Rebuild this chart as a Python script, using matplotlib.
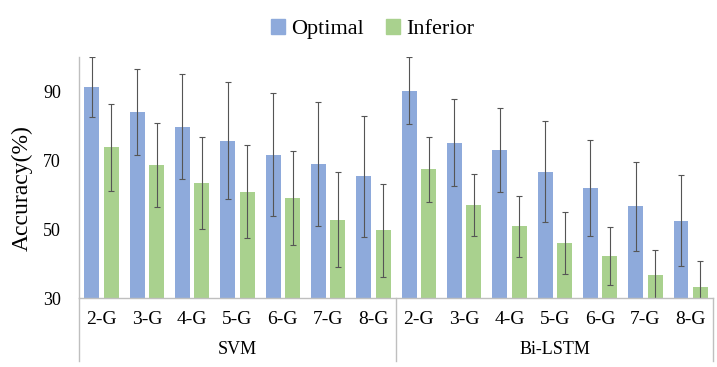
#!/usr/bin/env python3
# Grouped bar chart: Optimal vs Inferior accuracy for SVM and Bi-LSTM.

import numpy as np
import matplotlib
matplotlib.use("Agg")
import matplotlib.pyplot as plt
from matplotlib.patches import Patch

plt.rcParams["font.family"] = ["Liberation Serif", "DejaVu Serif"]

# ---------------------------------------------------------------------------
# Data
# ---------------------------------------------------------------------------
groups = ["SVM", "Bi-LSTM"]
categories = ["2-G", "3-G", "4-G", "5-G", "6-G", "7-G", "8-G"]

svm_optimal = [91.2, 84.0, 79.7, 75.6, 71.6, 68.9, 65.3]
svm_optimal_err = [8.7, 12.5, 15.2, 17.0, 17.9, 17.9, 17.6]
svm_inferior = [73.7, 68.6, 63.3, 60.9, 59.1, 52.7, 49.6]
svm_inferior_err = [12.6, 12.3, 13.3, 13.6, 13.7, 13.8, 13.4]

lstm_optimal = [90.2, 75.1, 72.9, 66.7, 61.9, 56.6, 52.5]
lstm_optimal_err = [9.8, 12.7, 12.2, 14.7, 13.9, 13.0, 13.1]
lstm_inferior = [67.4, 57.0, 50.8, 46.0, 42.1, 36.6, 33.3]
lstm_inferior_err = [9.4, 9.0, 8.9, 8.9, 8.4, 7.3, 7.4]

yticks = [30, 50, 70, 90]

BLUE = "#8eaadb"
GREEN = "#a9d18e"
GRID = "#bfbfbf"

# ---------------------------------------------------------------------------
# Plot
# ---------------------------------------------------------------------------
optimal = np.array(svm_optimal + lstm_optimal)
optimal_err = np.array(svm_optimal_err + lstm_optimal_err)
inferior = np.array(svm_inferior + lstm_inferior)
inferior_err = np.array(svm_inferior_err + lstm_inferior_err)
x = np.arange(len(optimal))

fig = plt.figure(figsize=(7.17, 3.67), dpi=100)
ax = fig.add_axes([0.110, 0.188, 0.885, 0.657])

w = 0.33
off = 0.215
err_kw = dict(ecolor="#555555", elinewidth=0.8, capsize=2.5, capthick=0.8)
ax.bar(x - off, optimal, w, bottom=0, color=BLUE, yerr=optimal_err,
       error_kw=err_kw, zorder=2)
ax.bar(x + off, inferior, w, bottom=0, color=GREEN, yerr=inferior_err,
       error_kw=err_kw, zorder=2)

ax.set_xlim(-0.5, len(x) - 0.5)
ax.set_ylim(30, 100)
ax.set_yticks(yticks)
ax.tick_params(axis="y", length=0, labelsize=13, pad=13)
ax.set_xticks(x)
ax.set_xticklabels(categories * len(groups))
ax.tick_params(axis="x", length=0, labelsize=14, pad=9)

for side in ["top", "right"]:
    ax.spines[side].set_visible(False)
for side in ["left", "bottom"]:
    ax.spines[side].set_color(GRID)
    ax.spines[side].set_linewidth(1.0)

ax.set_ylabel("Accuracy(%)", fontsize=17)
ax.yaxis.set_label_coords(-0.072, 0.455)

# Group labels and separators below the category labels
trans = ax.get_xaxis_transform()
n = len(categories)
for b in range(len(groups) + 1):
    xb = b * n - 0.5
    ax.plot([xb, xb], [0, -0.26], transform=trans, color=GRID, lw=1.0,
            clip_on=False)
for g, name in enumerate(groups):
    ax.text(g * n + (n - 1) / 2, -0.215, name, transform=trans,
            ha="center", va="center", fontsize=13)

handles = [Patch(color=BLUE, label="Optimal"),
           Patch(color=GREEN, label="Inferior")]
fig.legend(handles=handles, loc="center", bbox_to_anchor=(0.52, 0.92),
           ncol=2, frameon=False, fontsize=16, handlelength=0.6,
           handleheight=0.6, handletextpad=0.3, columnspacing=1.0)

fig.savefig("out.png", dpi=100)
plt.close(fig)
